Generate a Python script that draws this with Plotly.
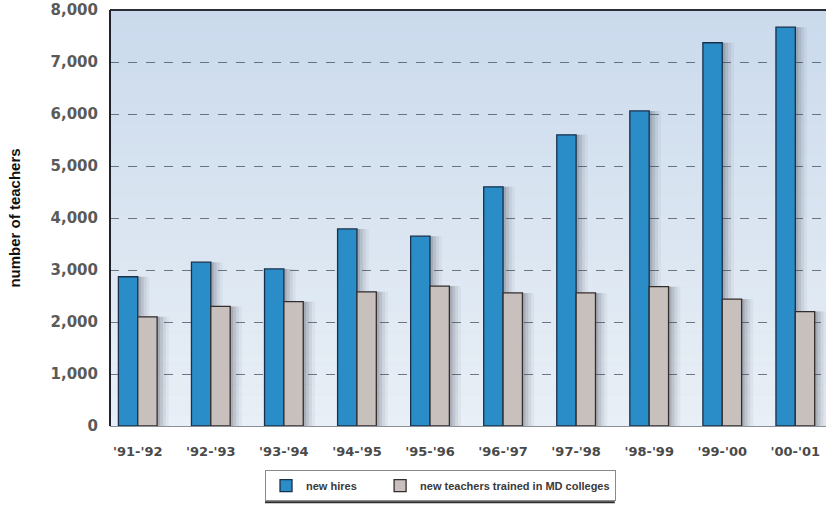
import plotly.graph_objects as go

# School years and teacher counts
years = ["'91-'92", "'92-'93", "'93-'94", "'94-'95", "'95-'96",
         "'96-'97", "'97-'98", "'98-'99", "'99-'00", "'00-'01"]
new_hires = [2870, 3150, 3020, 3790, 3650, 4600, 5600, 6060, 7370, 7670]
md_trained = [2100, 2300, 2390, 2580, 2690, 2560, 2560, 2680, 2440, 2200]

y_ticks = [0, 1000, 2000, 3000, 4000, 5000, 6000, 7000, 8000]
y_tick_text = ["0", "1,000", "2,000", "3,000", "4,000", "5,000", "6,000", "7,000", "8,000"]

BAR_W = 0.265
x_idx = list(range(len(years)))

fig = go.Figure()

# soft drop shadows behind each bar
for vals, off in ((new_hires, -BAR_W), (md_trained, 0.0)):
    for shift, alpha in ((0.04, 0.16), (0.08, 0.12), (0.12, 0.08), (0.16, 0.05)):
        fig.add_trace(go.Bar(
            x=x_idx, y=vals, width=BAR_W, offset=off + shift,
            marker=dict(color=f"rgba(60,62,75,{alpha})", line=dict(width=0)),
            showlegend=False, hoverinfo="skip"))

fig.add_trace(go.Bar(
    x=x_idx, y=new_hires, name="new hires\u00a0\u00a0\u00a0\u00a0\u00a0\u00a0",
    width=BAR_W, offset=-BAR_W,
    marker=dict(color="#2a8dc8", line=dict(color="#18304a", width=1.3))))
fig.add_trace(go.Bar(
    x=x_idx, y=md_trained, name="new teachers trained in MD colleges",
    width=BAR_W, offset=0.0,
    marker=dict(color="#c8c0bc", line=dict(color="#332d2d", width=1.3))))

# vertical gradient for the plotting area
shapes = []
n = 40
top_rgb = (202, 218, 236)
bot_rgb = (233, 239, 246)
for i in range(n):
    t = i / (n - 1)
    c = tuple(round(top_rgb[j] + (bot_rgb[j] - top_rgb[j]) * t) for j in range(3))
    shapes.append(dict(type="rect", xref="paper", yref="paper", layer="below",
                       x0=0, x1=1, y0=1 - (i + 1) / n, y1=1 - i / n,
                       fillcolor=f"rgb{c}", line=dict(width=0)))
# dark frame on top and left
shapes.append(dict(type="line", xref="paper", yref="paper", x0=0, x1=1, y0=1, y1=1,
                   line=dict(color="#2a2e36", width=2)))
shapes.append(dict(type="line", xref="paper", yref="paper", x0=0, x1=0, y0=0, y1=1,
                   line=dict(color="#1e232b", width=2)))
# heavy lower edge of the legend box
shapes.append(dict(type="line", xref="paper", yref="paper",
                   x0=0.2165, x1=0.705, y0=-0.183, y1=-0.183,
                   line=dict(color="#2b2b2b", width=2)))

fig.update_layout(
    width=827, height=506,
    margin=dict(l=110, r=1, t=10, b=80),
    paper_bgcolor="white",
    plot_bgcolor="#d6e2ef",
    barmode="overlay",
    shapes=shapes,
    font=dict(family="DejaVu Sans, sans-serif", color="#333"),
    xaxis=dict(
        range=[-0.38, 9.42], tickmode="array", tickvals=x_idx, ticktext=years,
        showgrid=False, zeroline=False, ticks="",
        tickfont=dict(size=13, color="#4a4a4a", weight="bold"),
        ticklabelstandoff=13,
        showline=True, linecolor="#8a8f98", linewidth=1,
    ),
    yaxis=dict(
        range=[0, 8000], tickmode="array", tickvals=y_ticks, ticktext=y_tick_text,
        showgrid=True, gridcolor="rgba(45,55,75,0.65)", gridwidth=1, griddash="dash",
        zeroline=False, ticks="", ticklen=0,
        ticklabelstandoff=11,
        tickfont=dict(size=15, color="#5a5a5a", weight="bold"),
        title=dict(text="number of teachers",
                   font=dict(family="Liberation Sans, Arial, sans-serif",
                             size=15, color="#111", weight="bold"),
                   standoff=26),
    ),
    legend=dict(
        orientation="h", x=0.2165, xanchor="left", y=-0.106, yanchor="top",
        bgcolor="white", bordercolor="#8a8a8a", borderwidth=1,
        font=dict(family="Liberation Sans, Arial, sans-serif", size=11,
                  color="#3a3a3a", weight="bold"),
        itemwidth=30, traceorder="normal",
    ),
)

fig.write_html("out.html")
